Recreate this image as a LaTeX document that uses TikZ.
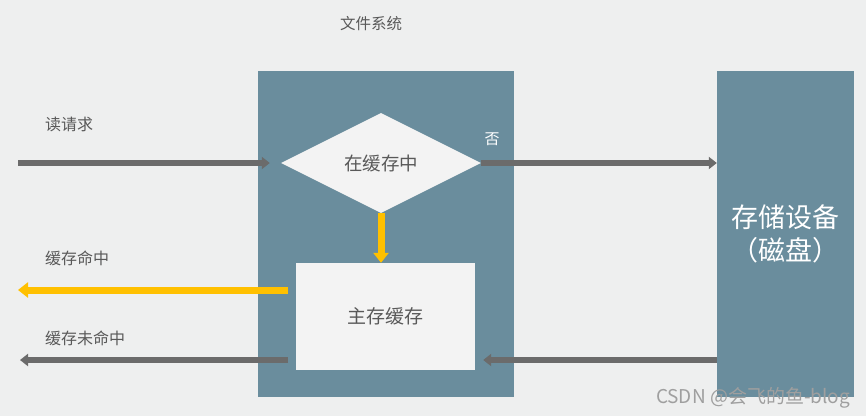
\documentclass[tikz,border=0pt]{standalone}
\usepackage{fontspec}
\setmainfont{Noto Sans CJK SC}
\usetikzlibrary{arrows.meta,shapes.geometric}
\definecolor{bg}{HTML}{EEEFEF}
\definecolor{fsblue}{HTML}{6A8D9D}
\definecolor{arrgrey}{HTML}{6B6B6B}
\definecolor{gold}{HTML}{FFC000}
\definecolor{txtgrey}{HTML}{595959}
\definecolor{boxwhite}{HTML}{F3F3F3}
\tikzset{
  panel/.style={fill=fsblue, draw=none, inner sep=0pt, anchor=center},
  whitebox/.style={fill=boxwhite, draw=none, inner sep=0pt},
  lbl/.style={text=txtgrey, font=\fontsize{16pt}{18pt}\selectfont, inner sep=0pt, anchor=west},
  greyarrow/.style={draw=arrgrey, line width=5.5pt, -{Triangle[length=8pt,width=12pt]}},
  goldarrow/.style={draw=gold, line width=7pt, -{Triangle[length=10pt,width=15pt]}},
}
\begin{document}
\begin{tikzpicture}[x=1pt,y=-1pt]
\fill[bg] (0,0) rectangle (866,416);
\useasboundingbox (0,0) rectangle (866,416);

% panels
\node[panel, minimum width=256pt, minimum height=326pt] (fs) at (386,234) {};
\node[panel, minimum width=137pt, minimum height=326pt, text=white,
      font=\fontsize{27pt}{33pt}\selectfont, align=center] (disk) at (785.5,234) {存储设备\\（磁盘）};

% diamond and cache box
\node[whitebox, diamond, minimum width=200pt, minimum height=100pt,
      font=\fontsize{18.5pt}{21pt}\selectfont, text=txtgrey] (dia) at (381,163) {在缓存中};
\node[whitebox, minimum width=179pt, minimum height=107pt,
      font=\fontsize{19pt}{22pt}\selectfont, text=txtgrey] (mc) at (385.5,316.5) {主存缓存};

% labels
\node[lbl, anchor=center, font=\fontsize{15.5pt}{17pt}\selectfont] (title) at (371,24) {文件系统};
\node[lbl] (lread) at (45,124) {读请求};
\node[lbl] (lhit) at (45,258) {缓存命中};
\node[lbl] (lmiss) at (45,338) {缓存未命中};
\node[lbl, anchor=center, text=white, font=\fontsize{15pt}{17pt}\selectfont] (lno) at (492,139) {否};

% coordinates
\coordinate (rin) at (18,163);
\coordinate (hitS) at (288,290);
\coordinate (hitE) at (18,290);
\coordinate (missS) at (288,360);
\coordinate (missE) at (20,360);

% arrows
\draw[greyarrow, shorten >=11pt] (rin) -- (dia.west);
\draw[greyarrow] (dia.east) -- (disk.west |- dia.east);
\draw[goldarrow] (dia.south) -- (dia.south |- mc.north);
\draw[goldarrow] (hitS) -- (hitE);
\draw[greyarrow] (missS) -- (missE);
\draw[greyarrow, shorten >=8pt] (disk.west |- missS) -- (mc.east |- missS);

% watermark
\node[text=gray!75, font=\fontsize{19pt}{21pt}\selectfont, inner sep=0pt] (wm) at (753,398) {CSDN @会飞的鱼-blog};
\end{tikzpicture}
\end{document}
